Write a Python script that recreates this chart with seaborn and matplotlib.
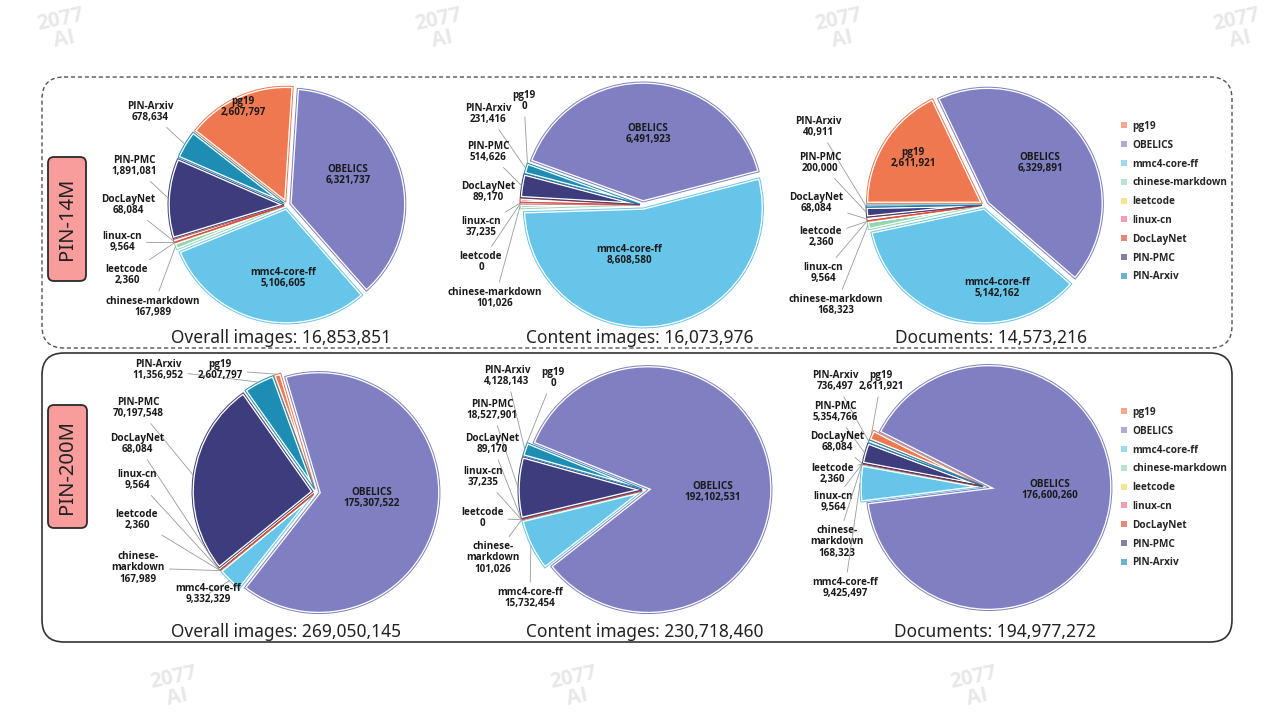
import numpy as np
import pandas as pd
import matplotlib
matplotlib.use("Agg")
import matplotlib.pyplot as plt
import seaborn as sns
from matplotlib.patches import FancyBboxPatch, Patch
from matplotlib import font_manager as fm

# ---------------- data ----------------
categories = ["pg19", "OBELICS", "mmc4-core-ff", "chinese-markdown", "leetcode",
              "linux-cn", "DocLayNet", "PIN-PMC", "PIN-Arxiv"]

pin14m_overall = [2607797, 6321737, 5106605, 167989, 2360, 9564, 68084, 1891081, 678634]
pin14m_content = [0, 6491923, 8608580, 101026, 0, 37235, 89170, 514626, 231416]
pin14m_documents = [2611921, 6329891, 5142162, 168323, 2360, 9564, 68084, 200000, 40911]
pin200m_overall = [2607797, 175307522, 9332329, 167989, 2360, 9564, 68084, 70197548, 11356952]
pin200m_content = [0, 192102531, 15732454, 101026, 0, 37235, 89170, 18527901, 4128143]
pin200m_documents = [2611921, 176600260, 9425497, 168323, 2360, 9564, 68084, 5354766, 736497]

subtitles = ["Overall images", "Content images", "Documents"]
group_labels = ["PIN-14M", "PIN-200M"]

# ---------------- style ----------------
sns.set_theme(style="white")
plt.rcParams['font.family'] = ['Noto Sans', 'DejaVu Sans']

# pick a sans family that really has a bold face installed
bold_family = "DejaVu Sans"
for fam in ["Open Sans", "Lato", "Roboto", "Noto Sans", "Liberation Sans"]:
    try:
        fp = fm.findfont(fm.FontProperties(family=fam, weight="bold"), fallback_to_default=False)
        if "bold" in fp.lower():
            bold_family = fam
            break
    except Exception:
        pass

palette = sns.color_palette(["#F07850", "#7F7FC1", "#67C5E9", "#93D6B2", "#F3D45C",
                             "#EC6A86", "#D44A32", "#3D3C7C", "#1E8DB4"])

fig = plt.figure(figsize=(12.8, 7.16), dpi=100)
ax = fig.add_axes([0, 0, 1, 1])

# ---------------- layout (pixel positions, y downward) ----------------
layout = [
    dict(values=pin14m_overall, title=subtitles[0], center=(287, 205), radius=116, start=142,
         title_pos=(281, 338), wrap=False,
         inside={"pg19": (243, 107), "OBELICS": (348, 175), "mmc4-core-ff": (283, 278)},
         outside={"PIN-Arxiv": (150, 112), "PIN-PMC": (134, 166), "DocLayNet": (128, 205),
                  "linux-cn": (122, 242), "leetcode": (127, 275), "chinese-markdown": (153, 307)}),
    dict(values=pin14m_content, title=subtitles[1], center=(643, 205), radius=120, start=160,
         title_pos=(640, 338), wrap=False,
         inside={"OBELICS": (648, 134), "mmc4-core-ff": (629, 255)},
         outside={"pg19": (524, 101), "PIN-Arxiv": (488, 114), "PIN-PMC": (488, 152),
                  "DocLayNet": (488, 192), "linux-cn": (481, 227), "leetcode": (481, 262),
                  "chinese-markdown": (495, 298)}),
    dict(values=pin14m_documents, title=subtitles[2], center=(985, 205), radius=116, start=180,
         title_pos=(991, 338), wrap=False,
         inside={"pg19": (913, 158), "OBELICS": (1040, 163), "mmc4-core-ff": (997, 288)},
         outside={"PIN-Arxiv": (818, 127), "PIN-PMC": (820, 163), "DocLayNet": (816, 203),
                  "leetcode": (821, 237), "linux-cn": (823, 273), "chinese-markdown": (836, 305)}),
    dict(values=pin200m_overall, title=subtitles[0], center=(316, 492), radius=121, start=110,
         title_pos=(286, 632), wrap=True,
         inside={"OBELICS": (372, 498)},
         outside={"PIN-Arxiv": (158, 370), "pg19": (220, 370), "PIN-PMC": (138, 408),
                  "DocLayNet": (137, 444), "linux-cn": (137, 480), "leetcode": (137, 520),
                  "chinese-markdown": (138, 568), "mmc4-core-ff": (208, 594)}),
    dict(values=pin200m_content, title=subtitles[1], center=(645, 490), radius=124, start=158,
         title_pos=(645, 632), wrap=True,
         inside={"OBELICS": (713, 492)},
         outside={"PIN-Arxiv": (507, 376), "pg19": (553, 378), "PIN-PMC": (492, 410),
                  "DocLayNet": (492, 444), "linux-cn": (483, 477), "leetcode": (482, 518),
                  "chinese-markdown": (493, 558), "mmc4-core-ff": (530, 598)}),
    dict(values=pin200m_documents, title=subtitles[2], center=(986, 487), radius=123, start=158,
         title_pos=(995, 632), wrap=True,
         inside={"OBELICS": (1050, 490)},
         outside={"PIN-Arxiv": (835, 381), "pg19": (881, 381), "PIN-PMC": (835, 412),
                  "DocLayNet": (837, 442), "leetcode": (832, 474), "linux-cn": (833, 502),
                  "chinese-markdown": (837, 542), "mmc4-core-ff": (845, 588)}),
]

# ---------------- watermarks ----------------
for wx, wy in [(62, 30), (440, 30), (840, 30), (1238, 30), (175, 688), (575, 688), (975, 688)]:
    ax.text(wx, wy, "2077\nAI", color="#e8e8e8", fontsize=15, fontweight="bold",
            family=bold_family, rotation=12, ha="center", va="center",
            linespacing=0.95, zorder=0)

# ---------------- panels ----------------
ax.add_patch(FancyBboxPatch((42, 77), 1190, 271, boxstyle="round,pad=0,rounding_size=22",
                            fill=False, ec="#555555", lw=1.0, ls=(0, (3, 2))))
ax.add_patch(FancyBboxPatch((42, 353), 1190, 289, boxstyle="round,pad=0,rounding_size=22",
                            fill=False, ec="#333333", lw=1.2))
for lbl, (x0, y0, x1, y1) in zip(group_labels, [(48, 157, 86, 281), (48, 405, 87, 528)]):
    ax.add_patch(FancyBboxPatch((x0, y0), x1 - x0, y1 - y0,
                                boxstyle="round,pad=0,rounding_size=6",
                                fc="#F99C9C", ec="#2b2b2b", lw=1.3))
    ax.text((x0 + x1) / 2, (y0 + y1) / 2, lbl, rotation=90, ha="center", va="center",
            fontsize=14.5, color="#222222")

# ---------------- pies ----------------
lab_kw = dict(fontsize=7.1, fontweight="bold", family=bold_family, ha="center", va="center",
              linespacing=1.05, color="#1a1a1a")
for ch in layout:
    vals = ch["values"]
    explode = [3] * len(vals)
    kw = dict(startangle=-ch["start"], counterclock=True, center=ch["center"],
              radius=ch["radius"], explode=explode, frame=True)
    wedges, _ = ax.pie(vals, colors=palette, wedgeprops=dict(edgecolor="white", linewidth=2.6), **kw)
    outl, _ = ax.pie(vals, colors=palette, wedgeprops=dict(facecolor="none", linewidth=0.7), **kw)
    for w, o, c, v in zip(wedges, outl, palette, vals):
        o.set_edgecolor(c)
        if v == 0:
            w.set_visible(False)
            o.set_visible(False)
    for cat, pos in ch["inside"].items():
        i = categories.index(cat)
        ax.text(pos[0], pos[1], f"{cat}\n{vals[i]:,}", **lab_kw)
    for cat, pos in ch["outside"].items():
        i = categories.index(cat)
        w = wedges[i]
        th = np.deg2rad((w.theta1 + w.theta2) / 2)
        pt = (w.center[0] + w.r * np.cos(th), w.center[1] + w.r * np.sin(th))
        name = "chinese-\nmarkdown" if (cat == "chinese-markdown" and ch["wrap"]) else cat
        ax.annotate(f"{name}\n{vals[i]:,}", xy=pt, xytext=pos,
                    arrowprops=dict(arrowstyle="-", color="#9a9a9a", lw=0.6,
                                    shrinkA=1, shrinkB=0), **lab_kw)
    ax.text(ch["title_pos"][0], ch["title_pos"][1], f"{ch['title']}: {sum(vals):,}",
            ha="center", va="center", fontsize=12.5, color="#222222")

# ---------------- legends ----------------
handles = [Patch(facecolor=c, edgecolor="none", alpha=0.65) for c in palette]
for ytop in (121, 407):
    fig.legend(handles, categories, loc="upper left",
               bbox_to_anchor=(1121 / 1280, 1 - ytop / 716), frameon=False,
               prop=dict(weight="bold", size=7.2, family=bold_family),
               handlelength=0.55, handleheight=0.55,
               handletextpad=0.6, labelspacing=0.78, borderpad=0, borderaxespad=0)

ax.set_xlim(0, 1280)
ax.set_ylim(716, 0)
ax.set_aspect("auto")
ax.axis("off")

fig.savefig("out.png", dpi=100, facecolor="white")
